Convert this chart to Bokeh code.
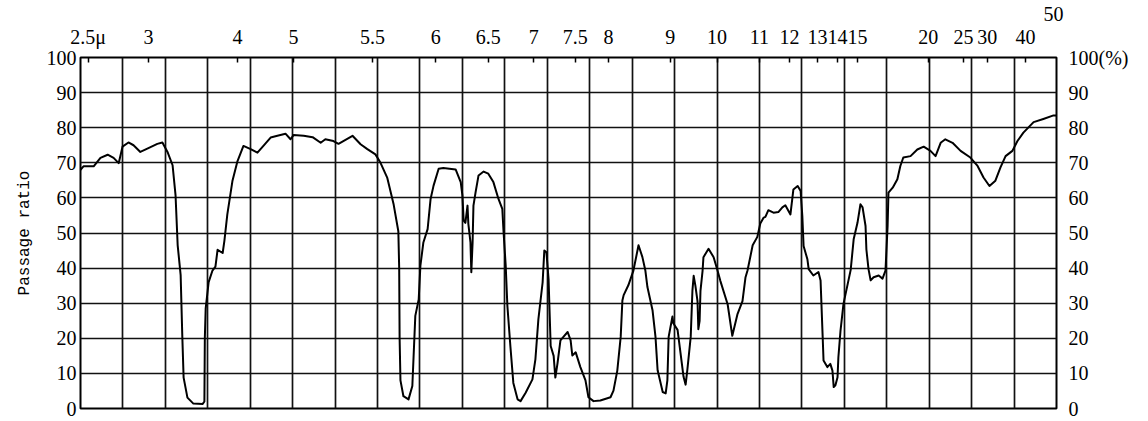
from bokeh.plotting import figure
from bokeh.models import LinearAxis, FixedTicker, Range1d
from bokeh.embed import file_html
from bokeh.resources import INLINE

# chart position in grid divisions (0..23) and transmittance (%)
pos = [0.00, 0.07, 0.31, 0.47, 0.64, 0.78, 0.90, 0.99, 1.13, 1.25, 1.41, 1.60, 1.81, 1.93,
       2.05, 2.17, 2.24, 2.29, 2.36, 2.40, 2.43, 2.52, 2.66, 2.88, 2.92, 2.93, 2.95, 3.02,
       3.11, 3.18, 3.23, 3.35, 3.39, 3.46, 3.58, 3.70, 3.84, 4.01, 4.17, 4.31, 4.48, 4.64,
       4.83, 4.95, 5.02, 5.26, 5.47, 5.66, 5.77, 5.96, 6.08, 6.41, 6.60, 6.76, 6.95, 7.07,
       7.23, 7.38, 7.49, 7.51, 7.52, 7.54, 7.61, 7.73, 7.82, 7.89, 7.97, 8.01, 8.08, 8.18,
       8.25, 8.32, 8.44, 8.55, 8.84, 8.96, 9.00, 9.03, 9.07, 9.12, 9.14, 9.19, 9.21, 9.24,
       9.26, 9.31, 9.38, 9.50, 9.61, 9.73, 9.85, 9.94, 9.97, 10.02, 10.06, 10.13, 10.20,
       10.30, 10.37, 10.49, 10.65, 10.72, 10.79, 10.89, 10.93, 10.98, 11.03, 11.08, 11.15,
       11.19, 11.24, 11.31, 11.38, 11.48, 11.55, 11.59, 11.67, 11.78, 11.90, 11.97, 12.09,
       12.25, 12.49, 12.56, 12.65, 12.73, 12.77, 12.80, 12.91, 13.03, 13.15, 13.24, 13.31,
       13.36, 13.48, 13.55, 13.60, 13.72, 13.79, 13.83, 13.86, 13.95, 13.97, 14.07, 14.14,
       14.21, 14.26, 14.30, 14.38, 14.42, 14.45, 14.49, 14.54, 14.56, 14.59, 14.61, 14.66,
       14.68, 14.80, 14.92, 15.01, 15.08, 15.25, 15.36, 15.48, 15.60, 15.67, 15.72, 15.84,
       15.95, 16.02, 16.10, 16.14, 16.21, 16.33, 16.45, 16.54, 16.61, 16.73, 16.80, 16.90,
       16.97, 17.01, 17.04, 17.13, 17.16, 17.27, 17.39, 17.44, 17.49, 17.51, 17.60, 17.67,
       17.72, 17.75, 17.79, 17.84, 17.86, 17.91, 17.98, 18.08, 18.15, 18.22, 18.31, 18.38,
       18.43, 18.50, 18.52, 18.57, 18.62, 18.69, 18.81, 18.90, 18.97, 19.02, 19.04, 19.14,
       19.25, 19.32, 19.39, 19.56, 19.72, 19.87, 20.03, 20.15, 20.27, 20.38, 20.55, 20.74,
       20.97, 21.14, 21.28, 21.42, 21.56, 21.68, 21.80, 21.96, 22.08, 22.22, 22.46, 22.69,
       22.93, 23.00]
trans = [68.0, 69.0, 69.0, 71.4, 72.3, 71.4, 69.9, 74.6, 75.8, 75.0, 73.1, 74.2, 75.4, 75.8,
         73.1, 69.3, 60.7, 46.5, 38.0, 20.2, 8.8, 3.1, 1.4, 1.3, 2.0, 20.0, 28.5, 36.0,
         39.3, 40.4, 45.2, 44.3, 47.7, 55.3, 64.8, 70.5, 74.8, 73.9, 72.9, 74.8, 77.2, 77.7,
         78.3, 76.7, 77.9, 77.7, 77.3, 75.7, 76.7, 76.2, 75.4, 77.7, 75.3, 73.9, 72.4, 70.0,
         65.7, 58.1, 50.5, 40.0, 20.0, 8.0, 3.5, 2.6, 6.4, 26.4, 31.1, 40.7, 47.3, 51.1,
         59.7, 63.5, 68.3, 68.5, 68.1, 64.5, 60.7, 53.5, 52.9, 57.8, 52.6, 47.3, 38.8, 47.3,
         57.8, 61.6, 66.4, 67.5, 66.9, 64.5, 59.7, 56.9, 50.2, 40.7, 29.2, 17.8, 7.3,
         2.6, 2.1, 4.5, 8.3, 14.0, 25.4, 35.9, 45.0, 44.5, 36.9, 17.8, 15.0,
         8.8, 12.8, 19.4, 20.4, 21.8, 19.4, 15.1, 16.0, 11.8, 8.0, 3.2, 2.1,
         2.3, 3.2, 5.1, 10.8, 20.4, 30.8, 32.3, 35.1, 39.3, 46.5, 43.2, 39.4,
         34.6, 28.0, 20.4, 10.9, 4.7, 4.3, 8.0, 20.4, 26.2, 24.3, 22.4, 15.8,
         9.1, 6.8, 10.9, 20.4, 33.5, 37.8, 35.0, 30.6, 22.6, 25.0, 33.5, 39.3,
         43.1, 45.5, 43.1, 39.4, 36.3, 29.7, 20.7, 26.8, 30.6, 37.3, 39.4, 46.5,
         48.9, 52.7, 54.4, 54.6, 56.5, 55.8, 56.0, 57.3, 57.9, 55.3, 62.4, 63.4,
         62.0, 54.9, 46.3, 42.5, 39.7, 37.9, 38.9, 36.5, 20.3, 13.7, 11.8, 12.7,
         10.8, 6.1, 6.6, 8.9, 14.6, 22.2, 29.8, 35.5, 39.5, 48.2, 52.9, 58.2,
         57.3, 52.0, 45.3, 39.7, 36.5, 37.4, 37.9, 37.0, 39.3, 52.0, 61.5, 62.9,
         65.3, 69.1, 71.5, 71.9, 73.8, 74.6, 73.4, 71.9, 75.7, 76.7, 75.7, 73.4,
         71.5, 69.1, 65.8, 63.4, 64.9, 68.7, 71.9, 73.4, 76.2, 78.6, 81.6, 82.5,
         83.5, 83.5]

# wavelength scale (top), positions in grid divisions
wl_labels = ["2.5μ", "3", "4", "5", "5.5", "6", "6.5", "7", "7.5", "8", "9", "10",
             "11", "12", "13", "14", "15", "20", "25", "30", "40"]
wl_pos = [0.18, 1.60, 3.70, 5.02, 6.88, 8.37, 9.61, 10.68, 11.66, 12.44, 13.90, 15.00,
          16.00, 16.71, 17.37, 17.84, 18.31, 19.98, 20.81, 21.37, 22.27]
wl_high_label = "50"
wl_high_pos = 22.93

y_ticks = [0, 10, 20, 30, 40, 50, 60, 70, 80, 90, 100]
right_labels = {100: "100(%)"}
grid_cols = list(range(24))

FONT = "Liberation Serif"

p = figure(width=1148, height=421, output_backend="svg", toolbar_location=None,
           x_range=Range1d(0, 23), y_range=Range1d(0, 100),
           x_axis_location="above", y_axis_location="left",
           min_border_left=80, min_border_right=92, min_border_top=57, min_border_bottom=13,
           background_fill_color="white", border_fill_color="white")
p.outline_line_color = "black"
p.outline_line_width = 2

p.xgrid.ticker = FixedTicker(ticks=grid_cols)
p.ygrid.ticker = FixedTicker(ticks=y_ticks)
for g in (p.xgrid[0], p.ygrid[0]):
    g.grid_line_color = "#111111"
    g.grid_line_width = 1.7
    g.grid_line_alpha = 1.0

def style_axis(ax):
    ax.axis_line_color = None
    ax.major_tick_out = 0
    ax.major_tick_in = 0
    ax.minor_tick_out = 0
    ax.minor_tick_in = 0
    ax.major_label_text_font = FONT
    ax.major_label_text_font_size = "20px"
    ax.major_label_text_color = "black"

# top wavelength axis
top = p.xaxis[0]
top.ticker = FixedTicker(ticks=wl_pos, minor_ticks=[])
top.major_label_overrides = dict(zip(wl_pos, wl_labels))
style_axis(top)
top.major_tick_in = 5
top.major_tick_line_color = "black"
top.major_tick_line_width = 1.5
top.major_label_standoff = 10

top2 = LinearAxis(ticker=FixedTicker(ticks=[wl_high_pos], minor_ticks=[]),
                  major_label_overrides={wl_high_pos: wl_high_label})
style_axis(top2)
top2.major_label_standoff = 2
p.add_layout(top2, "above")

# left axis
left = p.yaxis[0]
left.ticker = FixedTicker(ticks=y_ticks)
style_axis(left)
left.major_label_standoff = 4
left.axis_label = "Passage ratio"
left.axis_label_text_font = "Liberation Mono"
left.axis_label_text_font_size = "16px"
left.axis_label_text_font_style = "normal"
left.axis_label_text_color = "black"
left.axis_label_standoff = 10

# right axis
right = LinearAxis(ticker=FixedTicker(ticks=y_ticks), major_label_overrides=right_labels)
style_axis(right)
right.major_label_standoff = 12
p.add_layout(right, "right")

p.line(pos, trans, line_color="black", line_width=2, line_join="round")

open("out.html", "w").write(file_html(p, INLINE))
